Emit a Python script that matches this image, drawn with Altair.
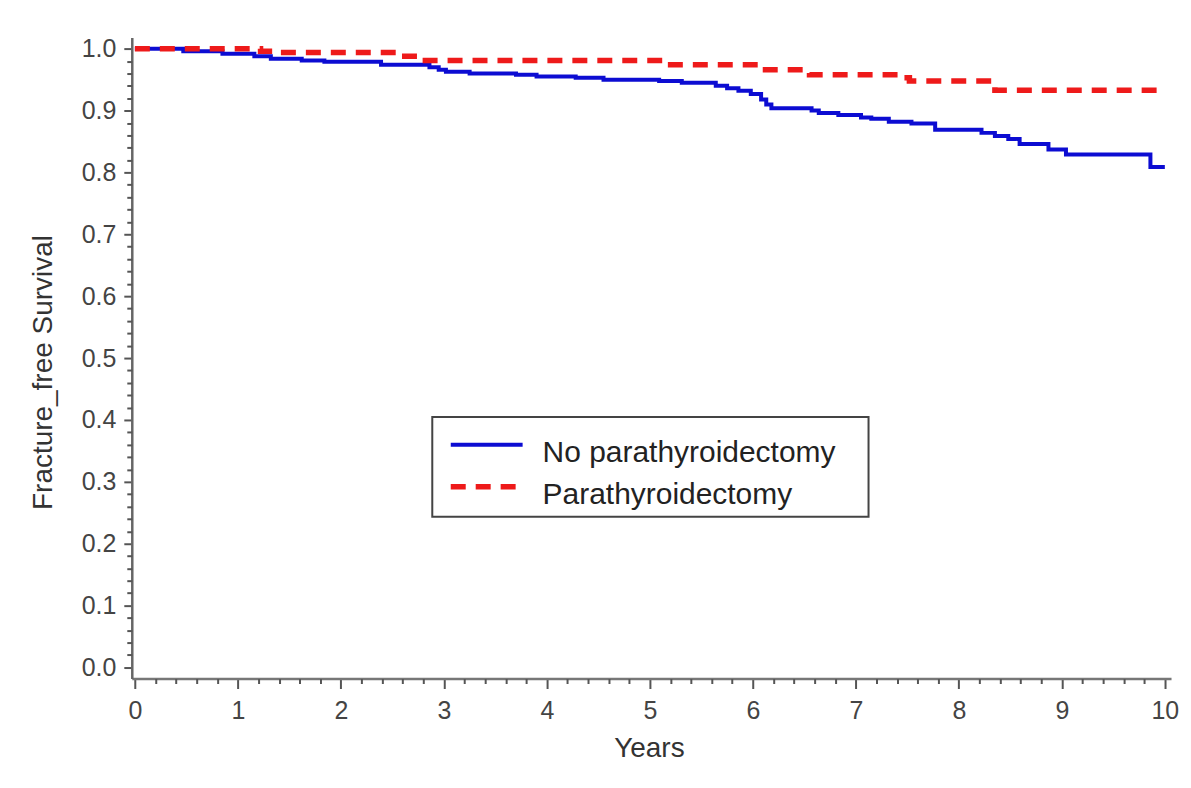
import altair as alt
import pandas as pd

# ---- data (Kaplan-Meier style step curves) ----
group_names = ["No parathyroidectomy", "Parathyroidectomy"]

years_no_ptx = [0.0, 0.47, 0.85, 1.16, 1.32, 1.62, 1.84, 2.39, 2.86, 2.95, 3.02, 3.25,
                3.70, 3.90, 4.28, 4.55, 5.09, 5.31, 5.64, 5.75, 5.86, 5.98, 6.08, 6.13,
                6.18, 6.57, 6.64, 6.83, 7.05, 7.15, 7.32, 7.54, 7.77, 8.22, 8.35, 8.48,
                8.59, 8.87, 9.04, 9.86, 10.0]
surv_no_ptx = [1.000, 0.996, 0.992, 0.988, 0.984, 0.981, 0.979, 0.974, 0.970, 0.966, 0.963, 0.960,
               0.958, 0.955, 0.953, 0.950, 0.948, 0.945, 0.940, 0.936, 0.932, 0.927, 0.918, 0.910,
               0.904, 0.900, 0.896, 0.893, 0.889, 0.887, 0.882, 0.879, 0.869, 0.864, 0.859, 0.854,
               0.846, 0.837, 0.829, 0.809, 0.809]

years_ptx = [0.0, 1.22, 1.40, 2.55, 2.78, 5.17, 6.08, 6.55, 7.45, 7.52, 8.35, 9.95]
surv_ptx = [1.000, 0.996, 0.994, 0.988, 0.981, 0.974, 0.966, 0.958, 0.953, 0.948, 0.933, 0.933]

x_major = list(range(0, 11))
x_minor = [round(i * 0.2, 1) for i in range(51) if i % 5 != 0]
y_major = [round(i * 0.1, 1) for i in range(11)]
y_minor = [round(i * 0.02, 2) for i in range(51) if i % 5 != 0]

df = pd.concat([
    pd.DataFrame({"year": years_no_ptx, "survival": surv_no_ptx, "group": group_names[0]}),
    pd.DataFrame({"year": years_ptx, "survival": surv_ptx, "group": group_names[1]}),
], ignore_index=True)

FONT = "Liberation Sans"
BLUE = "#0c0cd2"
RED = "#ee1a1a"

xs = alt.Scale(domain=[-0.03, 10.06], nice=False, zero=False)
ys = alt.Scale(domain=[-0.018, 1.018], nice=False, zero=False)

legend = alt.Legend(
    orient="none", legendX=313.5, legendY=401, title=None,
    symbolType="M-1,-0.9H7", symbolSize=324, symbolStrokeWidth=3,
    labelFont=FONT, labelFontSize=30, labelColor="#222", labelOffset=68,
    labelLimit=500, rowPadding=7, padding=0,
)

main = alt.Chart(df).mark_line(interpolate="step-after").encode(
    x=alt.X("year:Q", scale=xs, axis=alt.Axis(
        values=x_major, format="d", title="Years", orient="bottom", grid=False,
        tickSize=10, tickWidth=2, tickColor="#555", domainColor="#777", domainWidth=2.5,
        labelFontSize=25, labelPadding=10, labelColor="#444", labelFlush=False,
        titleFontSize=28, titleColor="#333", titleFontWeight="normal",
        titleX=518, titleY=78, titleAlign="center", titleBaseline="alphabetic")),
    y=alt.Y("survival:Q", scale=ys, axis=alt.Axis(
        values=y_major, format=".1f", title="Fracture_free Survival", orient="left", grid=False,
        tickSize=8, tickWidth=2, tickColor="#555", domainColor="#666", domainWidth=2.5,
        labelFontSize=25, labelPadding=8, labelColor="#444", labelFlush=False,
        titleFontSize=28, titleColor="#333", titleFontWeight="normal",
        titleX=-80, titleY=335, titleAngle=270, titleAlign="center", titleBaseline="alphabetic")),
    color=alt.Color("group:N", scale=alt.Scale(domain=group_names, range=[BLUE, RED]), legend=legend),
    strokeDash=alt.StrokeDash("group:N", scale=alt.Scale(domain=group_names, range=[[1, 0], [15, 10]]),
                              legend=legend),
    strokeWidth=alt.StrokeWidth("group:O", scale=alt.Scale(domain=group_names, range=[4, 5.5]), legend=None),
)

minor = alt.Chart(df).mark_line(opacity=0).encode(
    x=alt.X("year:Q", scale=xs, axis=alt.Axis(
        values=x_minor, labels=False, domain=False, grid=False, title="", orient="bottom",
        tickSize=5, tickWidth=2, tickColor="#555")),
    y=alt.Y("survival:Q", scale=ys, axis=alt.Axis(
        values=y_minor, labels=False, domain=False, grid=False, title="", orient="left",
        tickSize=5, tickWidth=2, tickColor="#555")),
)

frame = alt.Chart(alt.Data(values=[{"k": 1}])).mark_rect(
    fill="white", stroke="#444", strokeWidth=2
).encode(
    x=alt.value(301), x2=alt.value(738), y=alt.value(380), y2=alt.value(480)
)

chart = alt.layer(frame, main, minor).resolve_axis(
    x="independent", y="independent"
).properties(
    width=1041, height=642,
    padding={"left": 124, "top": 29, "right": 12, "bottom": 101},
    autosize=alt.AutoSizeParams(type="none"),
    background="white",
).configure_view(stroke=None).configure_axis(
    labelFont=FONT, titleFont=FONT
).configure_legend(labelFont=FONT)

chart.save("out.html", embed_options={"renderer": "svg", "actions": False})
